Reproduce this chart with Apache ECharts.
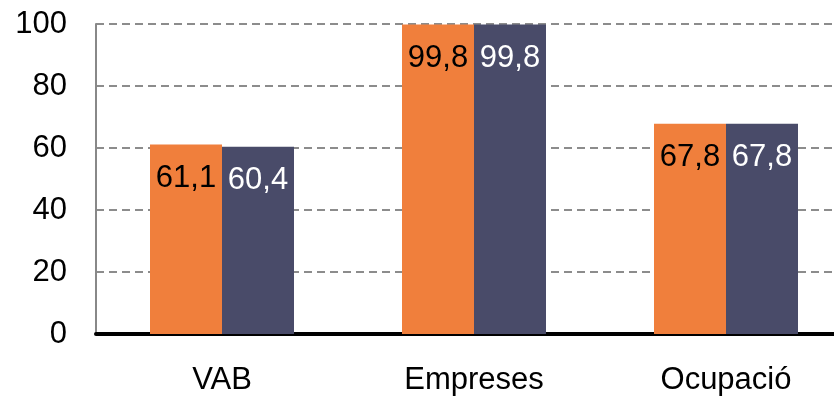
<!DOCTYPE html>
<html>
<head>
<meta charset="utf-8">
<script src="https://cdn.jsdelivr.net/npm/echarts@6/dist/echarts.min.js"></script>
<style>html,body{margin:0;padding:0;background:#fff;overflow:hidden;width:834px;height:400px}#c{width:852px;height:400px}</style>
</head>
<body>
<div id="c"></div>
<script>
var categories = ['VAB', 'Empreses', 'Ocupació'];
var seriesA = [61.1, 99.8, 67.8];
var seriesB = [60.4, 99.8, 67.8];
var yTicks = [0, 20, 40, 60, 80, 100];

var chart = echarts.init(document.getElementById('c'), null, {renderer: 'canvas'});
var font = 'Liberation Sans, Arial, sans-serif';
function fmt(p) { return String(p.value).replace('.', ','); }
chart.setOption({
  animation: false,
  grid: {left: 96, top: 24, right: 0, bottom: 66, containLabel: false},
  xAxis: {
    type: 'category',
    data: categories,
    axisLine: {show: true, lineStyle: {color: '#000', width: 4}},
    axisTick: {show: false},
    axisLabel: {color: '#000', fontSize: 31, fontFamily: font, margin: 31}
  },
  yAxis: {
    type: 'value',
    min: yTicks[0], max: yTicks[yTicks.length - 1], interval: 20,
    axisLine: {show: true, lineStyle: {color: '#888', width: 2}},
    axisTick: {show: false},
    axisLabel: {color: '#000', fontSize: 31, fontFamily: font, margin: 29},
    splitLine: {show: true, lineStyle: {color: '#8c8c8c', width: 2, type: [8, 5]}}
  },
  series: [
    {
      type: 'bar', data: seriesA, barWidth: 72, barGap: '0%',
      itemStyle: {color: '#F07F3C'},
      label: {show: true, position: 'insideTop', distance: 18, color: '#000', fontSize: 31, fontFamily: font, formatter: fmt}
    },
    {
      type: 'bar', data: seriesB, barWidth: 72, barGap: '0%',
      itemStyle: {color: '#494B69'},
      label: {show: true, position: 'insideTop', distance: 18, color: '#fff', fontSize: 31, fontFamily: font, formatter: fmt}
    }
  ]
});
</script>
</body>
</html>
